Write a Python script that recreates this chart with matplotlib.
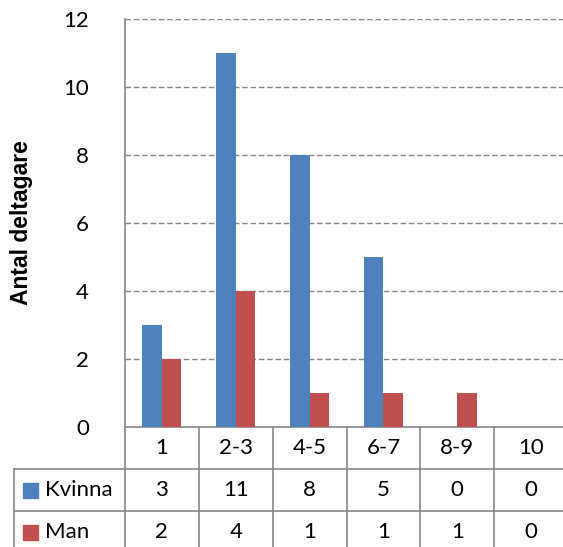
import numpy as np
import matplotlib.pyplot as plt
from matplotlib.transforms import blended_transform_factory

# Antal deltagare per kategori
kategorier = ['1', '2-3', '4-5', '6-7', '8-9', '10']
kvinna = [3, 11, 8, 5, 0, 0]
man = [2, 4, 1, 1, 1, 0]
serier = ['Kvinna', 'Man']
farger = ['#4F81BD', '#C0504D']

plt.rcParams['font.family'] = ['Lato', 'DejaVu Sans']
grid_col = '#868686'
fs = 16

fig = plt.figure(figsize=(5.63, 5.47), dpi=100)
ax = fig.add_axes([125/563, 120/547, 443/563, 408/547])

x = np.arange(len(kategorier))
w = 0.264
ax.bar(x - w/2, kvinna, w, color=farger[0], zorder=3)
ax.bar(x + w/2, man, w, color=farger[1], zorder=3)

ax.set_xlim(-0.5, len(kategorier) - 0.5)
ax.set_ylim(0, 12)
ax.set_yticks(np.arange(0, 13, 2))
ax.set_xticks([])
ax.tick_params(axis='y', length=0, pad=26, labelsize=fs)

for yv in range(2, 13, 2):
    ax.axhline(yv, color=grid_col, linestyle=(0, (4, 2)), linewidth=1.0, zorder=1)

for s in ['top', 'right']:
    ax.spines[s].set_visible(False)
for s in ['left', 'bottom']:
    ax.spines[s].set_color(grid_col)
    ax.spines[s].set_linewidth(1.2)

ax.set_ylabel('Antal deltagare', fontsize=16.5, fontweight='bold',
              family=['Liberation Sans', 'DejaVu Sans'])
ax.yaxis.set_label_coords(-92/443, 0.5)

# Datatabell under diagrammet
tr = blended_transform_factory(ax.transData, ax.transAxes)
rad = 42/408
lkw = dict(color=grid_col, linewidth=1.2, transform=tr, clip_on=False)

for i in range(len(kategorier) + 1):
    ax.plot([i - 0.5, i - 0.5], [0, -3*rad - 0.05], **lkw)
ax.plot([-2.0, -2.0], [-rad, -3*rad - 0.05], **lkw)
for r in (1, 2):
    ax.plot([-2.0, len(kategorier) - 0.5], [-r*rad, -r*rad], **lkw)

for i, k in enumerate(kategorier):
    ax.text(i, -0.5*rad, k, ha='center', va='center', fontsize=fs, transform=tr)

for r, (namn, vals, col) in enumerate(zip(serier, [kvinna, man], farger), start=1):
    yc = -(r + 0.5)*rad
    ax.add_patch(plt.Rectangle((-1.878, yc - 7.5/408), 0.203, 15/408,
                               color=col, transform=tr, clip_on=False))
    ax.text(-1.58, yc, namn, ha='left', va='center', fontsize=fs, transform=tr)
    for i, v in enumerate(vals):
        ax.text(i, yc, str(v), ha='center', va='center', fontsize=fs, transform=tr)

plt.savefig('out.png', dpi=100)
